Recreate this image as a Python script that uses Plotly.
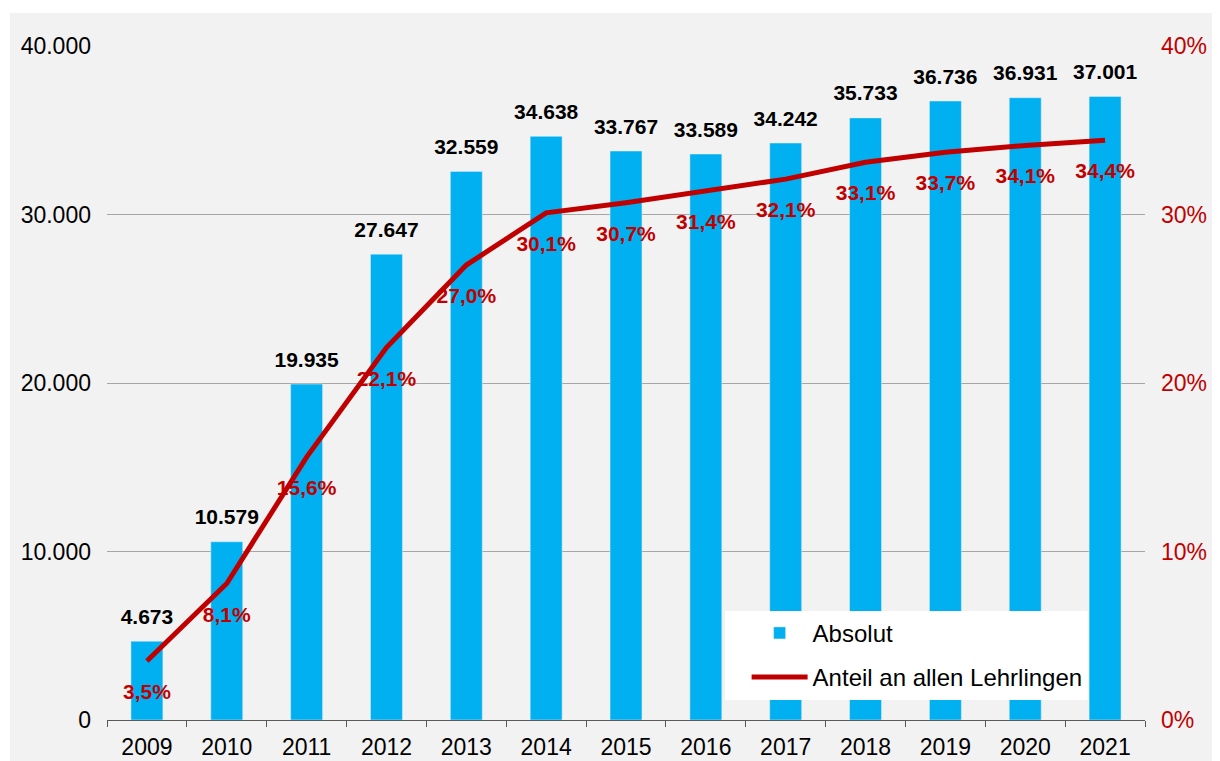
"""
Lehrlinge chart: absolute numbers (bars) and share of all apprentices (line)
"""
import plotly.graph_objects as go

# data
years = ["2009", "2010", "2011", "2012", "2013", "2014", "2015",
         "2016", "2017", "2018", "2019", "2020", "2021"]
absolut = [4673, 10579, 19935, 27647, 32559, 34638, 33767,
           33589, 34242, 35733, 36736, 36931, 37001]
anteil = [0.035, 0.081, 0.156, 0.221, 0.270, 0.301, 0.307,
          0.314, 0.321, 0.331, 0.337, 0.341, 0.344]

BLUE = "#00b0f0"
RED = "#c00000"
BG = "#f2f2f2"
FONT = "Arial, Liberation Sans, sans-serif"

fig = go.Figure()

fig.add_trace(go.Bar(
    x=years, y=absolut, name="Absolut",
    marker_color=BLUE, width=0.4, legendgroup="a",
))

# bar value labels (invisible markers give the gap above the bar)
fig.add_trace(go.Scatter(
    x=years, y=absolut, mode="markers+text", showlegend=False,
    marker=dict(size=18, color="rgba(0,0,0,0)"),
    texttemplate="%{y:,}", textposition="top center",
    textfont=dict(size=21, color="black", family=FONT, weight="bold"),
    cliponaxis=False, hoverinfo="skip",
))

# big invisible markers push the labels below the line points
fig.add_trace(go.Scatter(
    x=years, y=anteil, name="Anteil an allen Lehrlingen",
    mode="lines+markers+text", yaxis="y2",
    line=dict(color=RED, width=5),
    marker=dict(size=34, color="rgba(0,0,0,0)"),
    texttemplate="%{y:.1%}", textposition="bottom center",
    textfont=dict(size=21, color=RED, family=FONT, weight="bold"),
    cliponaxis=False, legendgroup="b",
))

# grey background panel
fig.add_shape(type="rect", xref="paper", yref="paper",
              x0=-0.0934, x1=1.08, y0=-0.07, y1=1.049,
              fillcolor=BG, line_width=0, layer="below")

# page has an 8px body margin, so the figure is 8px smaller
fig.update_layout(
    width=1212, height=753,
    margin=dict(l=99, r=75, t=38, b=41),
    paper_bgcolor="white",
    plot_bgcolor="rgba(0,0,0,0)",
    separators=",.",
    font=dict(family=FONT, size=23, color="black"),
    bargap=0.6,
    showlegend=True,
    legend=dict(
        x=0.595, y=0.03, xanchor="left", yanchor="bottom",
        bgcolor="white", borderwidth=0,
        font=dict(size=24, family=FONT, color="black"),
        tracegroupgap=10, indentation=22, itemwidth=56,
    ),
    xaxis=dict(
        type="category", range=[-0.5, 12.5], showgrid=False, automargin=False,
        showline=True, linecolor="#595959", linewidth=1,
        ticks="outside", tickson="boundaries", ticklen=6, tickcolor="#595959",
        ticklabelstandoff=6,
        tickfont=dict(size=23, color="black"),
    ),
    yaxis=dict(
        range=[0, 40000], dtick=10000, tickformat=",d", automargin=False,
        showgrid=True, gridcolor="#a6a6a6", gridwidth=1,
        zeroline=False, showline=False, ticks="", ticklabelstandoff=15,
        tickfont=dict(size=23, color="black"),
    ),
    yaxis2=dict(
        range=[0, 0.4], dtick=0.1, tickformat=".0%", automargin=False,
        overlaying="y", side="right", showgrid=False,
        zeroline=False, showline=False, ticks="", ticklabelstandoff=15,
        tickfont=dict(size=23, color=RED),
    ),
)

fig.write_html("out.html")
